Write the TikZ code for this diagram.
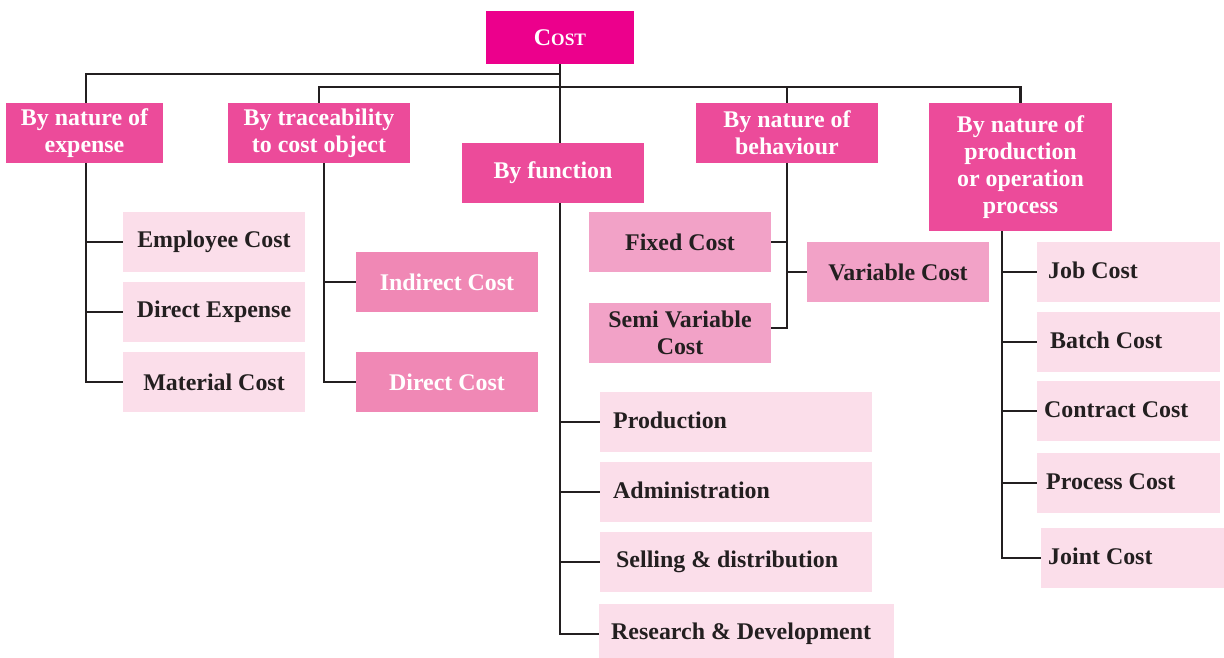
\documentclass[tikz,border=0pt]{standalone}
\usepackage{fontspec}
\setmainfont{Liberation Serif}
\usetikzlibrary{backgrounds}
\definecolor{costmag}{HTML}{EC008C}
\definecolor{catpink}{HTML}{EC4B9A}
\definecolor{midpink}{HTML}{F088B5}
\definecolor{behpink}{HTML}{F2A2C7}
\definecolor{lightpink}{HTML}{FBDEEA}
\definecolor{textdark}{HTML}{231F20}
\tikzset{
  base/.style={inner sep=0pt, minimum height=60bp, align=center,
    font=\bfseries\fontsize{24}{27}\selectfont},
  costbox/.style={base, fill=costmag, text=white},
  catbox/.style={base, fill=catpink, text=white},
  midbox/.style={base, fill=midpink, text=white},
  behbox/.style={base, fill=behpink, text=textdark},
  leafbox/.style={base, fill=lightpink, text=textdark},
  leafleft/.style={leafbox, anchor=west},
  link/.style={draw=textdark, line width=2.6bp},
}
\newcommand{\lefttext}[2]{\raisebox{3bp}{\makebox[#1][l]{#2}}}
\begin{document}
\begin{tikzpicture}[x=1bp,y=-1bp]
\useasboundingbox (0,0) rectangle (1224,658);
% top
\node[costbox, minimum width=148bp, minimum height=53bp] (cost) at (560,37.5)
  {C{\fontsize{17.5}{20}\selectfont OST}};
% categories
\node[catbox, minimum width=157bp] (exp) at (84.5,133) {By nature of\\expense};
\node[catbox, minimum width=182bp] (trace) at (319,133) {By traceability\\to cost object};
\node[catbox, minimum width=182bp] (func) at (553,173) {By function};
\node[catbox, minimum width=182bp] (behav) at (787,133) {By nature of\\behaviour};
\node[catbox, minimum width=183bp, minimum height=128bp] (proc) at (1020.5,167) {By nature of\\production\\or operation\\process};
% by nature of expense
\node[leafbox, minimum width=182bp] (emp) at (214,242) {Employee Cost};
\node[leafbox, minimum width=182bp] (dexp) at (214,312) {Direct Expense};
\node[leafbox, minimum width=182bp] (mat) at (214,382) {Material Cost};
% traceability
\node[midbox, minimum width=182bp] (indir) at (447,282) {Indirect Cost};
\node[midbox, minimum width=182bp] (dir) at (447,382) {Direct Cost};
% behaviour
\node[behbox, minimum width=182bp] (fixed) at (680,242) {Fixed Cost};
\node[behbox, minimum width=182bp] (semi) at (680,333) {Semi Variable\\Cost};
\node[behbox, minimum width=182bp] (var) at (898,272) {Variable Cost};
% function
\node[leafleft, inner xsep=13bp] (prodn) at (600,422) {\lefttext{246bp}{Production}};
\node[leafleft, inner xsep=13bp] (admin) at (600,492) {\lefttext{246bp}{Administration}};
\node[leafleft, inner xsep=16bp] (sell) at (600,562) {\lefttext{240bp}{Selling \& distribution}};
\node[leafleft, inner xsep=12bp] (rd) at (599,634) {\lefttext{271bp}{Research \& Development}};
% production process
\node[leafleft, inner xsep=11bp] (job) at (1037,272) {\lefttext{161bp}{Job Cost}};
\node[leafleft, inner xsep=13bp] (batch) at (1037,342) {\lefttext{157bp}{Batch Cost}};
\node[leafleft, inner xsep=7bp] (contract) at (1037,411) {\lefttext{169bp}{Contract Cost}};
\node[leafleft, inner xsep=9bp] (process) at (1037,483) {\lefttext{165bp}{Process Cost}};
\node[leafleft, inner xsep=7bp] (joint) at (1041,558) {\lefttext{169bp}{Joint Cost}};
% connectors
\begin{scope}[on background layer]
\coordinate (busA) at (560,74);
\coordinate (busB) at (560,87);
\draw[link] (cost.south) -- (cost.south |- rd.west) -- (rd.west);
\draw[link] (busA) -| ([xshift=1.5bp]exp.north);
\draw[link] (trace.north) |- (busB) -| (proc.north);
\draw[link] (behav.north) -- (behav.north |- busB);
% expense
\draw[link] ([xshift=1.5bp]exp.south) |- (emp.west);
\draw[link] ([xshift=1.5bp]exp.south) |- (dexp.west);
\draw[link] ([xshift=1.5bp]exp.south) |- (mat.west);
% traceability
\draw[link] ([xshift=5bp]trace.south) |- (indir.west);
\draw[link] ([xshift=5bp]trace.south) |- (dir.west);
% function
\draw[link] (cost.south |- prodn.west) -- (prodn.west);
\draw[link] (cost.south |- admin.west) -- (admin.west);
\draw[link] (cost.south |- sell.west) -- (sell.west);
% behaviour
\draw[link] (behav.south) |- ([yshift=5bp]semi.east);
\draw[link] (behav.south |- fixed.east) -- (fixed.east);
\draw[link] (behav.south |- var.west) -- (var.west);
% production process
\coordinate (pv) at ([xshift=-18.5bp]proc.south);
\draw[link] (pv) |- (joint.west);
\draw[link] (pv |- job.west) -- (job.west);
\draw[link] (pv |- batch.west) -- (batch.west);
\draw[link] (pv |- contract.west) -- (contract.west);
\draw[link] (pv |- process.west) -- (process.west);
\end{scope}
\end{tikzpicture}
\end{document}
